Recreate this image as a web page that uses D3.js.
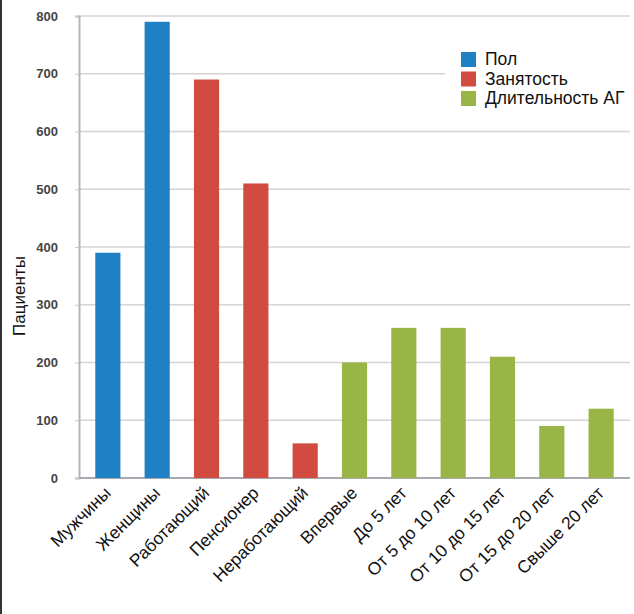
<!DOCTYPE html>
<html>
<head>
<meta charset="utf-8">
<script src="https://cdn.jsdelivr.net/npm/d3@7/dist/d3.min.js"></script>
<style>
  html, body { margin: 0; padding: 0; background: #fff; }
  svg { display: block; }
</style>
</head>
<body>
<svg id="chart" width="634" height="614"></svg>
<script>
// Patient counts by category
const categories = ["Мужчины", "Женщины", "Работающий", "Пенсионер", "Неработающий",
  "Впервые", "До 5 лет", "От 5 до 10 лет", "От 10 до 15 лет", "От 15 до 20 лет", "Свыше 20 лет"];
const values = [390, 790, 690, 510, 60, 200, 260, 260, 210, 90, 120];
const groups = ["Пол", "Пол", "Занятость", "Занятость", "Занятость",
  "Длительность АГ", "Длительность АГ", "Длительность АГ", "Длительность АГ", "Длительность АГ", "Длительность АГ"];
const legendNames = ["Пол", "Занятость", "Длительность АГ"];
const legendColors = ["#1f80c3", "#d14b40", "#98b545"];
const yTicks = [0, 100, 200, 300, 400, 500, 600, 700, 800];
const yTitle = "Пациенты";

const svg = d3.select("#chart");
const plotLeft = 79, plotRight = 630, plotTop = 16, plotBottom = 478;
const font = "Liberation Sans, Arial, sans-serif";

const x = d3.scaleBand().domain(categories).range([plotLeft, plotRight])
  .paddingInner(0.49).paddingOuter(0.33);
const y = d3.scaleLinear().domain([0, 800]).range([plotBottom, plotTop]);
const color = d3.scaleOrdinal().domain(legendNames).range(legendColors);

// frame edge on the left
svg.append("rect").attr("x", 0).attr("y", 0).attr("width", 2).attr("height", 614).attr("fill", "#333");

// gridlines
svg.append("g").selectAll("line").data(yTicks.filter(d => d > 0)).join("line")
  .attr("x1", plotLeft).attr("x2", plotRight)
  .attr("y1", d => y(d)).attr("y2", d => y(d))
  .attr("stroke", "#d4d4d4").attr("stroke-width", 1.5);

// y axis
const yAxis = svg.append("g").attr("transform", `translate(${plotLeft},0)`)
  .call(d3.axisLeft(y).tickValues(yTicks).tickSize(4).tickPadding(17));
yAxis.select(".domain").attr("stroke", "#b5b5b5").attr("stroke-width", 2);
yAxis.selectAll(".tick line").attr("stroke", "#c8c8c8");
yAxis.selectAll(".tick text")
  .attr("font-family", font)
  .attr("font-size", 13).attr("font-weight", "bold").attr("fill", "#444");

// baseline
svg.append("line").attr("x1", plotLeft).attr("x2", plotRight)
  .attr("y1", y(0)).attr("y2", y(0)).attr("stroke", "#a8a8b0").attr("stroke-width", 2);

// bars
svg.append("g").selectAll("rect").data(categories).join("rect")
  .attr("x", d => x(d))
  .attr("width", x.bandwidth())
  .attr("y", (d, i) => y(values[i]))
  .attr("height", (d, i) => y(0) - y(values[i]))
  .attr("fill", (d, i) => color(groups[i]));

// x labels, rotated
svg.append("g").selectAll("text").data(categories).join("text")
  .attr("transform", d => `translate(${x(d) + x.bandwidth() / 2 + 4},${plotBottom + 16}) rotate(-45)`)
  .attr("text-anchor", "end")
  .attr("font-family", font)
  .attr("font-size", 17.5).attr("fill", "#111")
  .text(d => d);

// y title
svg.append("text")
  .attr("transform", `translate(25,296) rotate(-90)`)
  .attr("text-anchor", "middle")
  .attr("font-family", font)
  .attr("font-size", 17).attr("fill", "#111")
  .text(yTitle);

// legend
const lg = svg.append("g");
lg.append("rect").attr("x", 445).attr("y", 46).attr("width", 189).attr("height", 62).attr("fill", "#fff");
const items = lg.selectAll("g").data(legendNames).join("g")
  .attr("transform", (d, i) => `translate(461,${52 + i * 19.5})`);
items.append("rect").attr("width", 15).attr("height", 15).attr("fill", d => color(d));
items.append("text").attr("x", 24).attr("y", 13)
  .attr("font-family", font)
  .attr("font-size", 17.5).attr("fill", "#111")
  .text(d => d);
</script>
</body>
</html>
